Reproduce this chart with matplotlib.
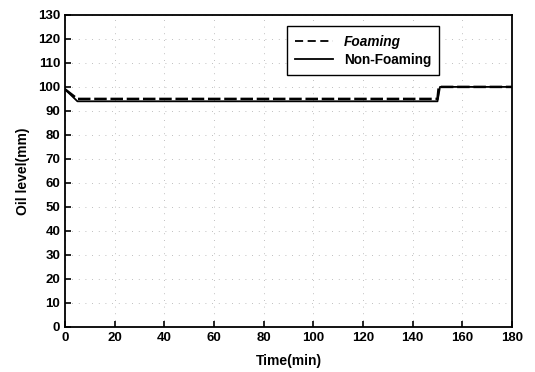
import matplotlib
matplotlib.use("Agg")
from matplotlib import pyplot as plt

plt.rcParams['font.family'] = ['Liberation Sans', 'DejaVu Sans']
plt.rcParams['font.weight'] = 'bold'

# oil level readings (mm) vs time (min)
t_foam = [0, 5, 10, 30, 60, 90, 120, 150, 150.5, 180]
lvl_foam = [99, 95, 95, 95, 95, 95, 95, 95, 100, 100]
t_nonfoam = [0, 5, 10, 30, 60, 90, 120, 150, 151, 180]
lvl_nonfoam = [99, 94, 94, 94, 94, 94, 94, 94, 100, 100]

xticks = list(range(0, 181, 20))
yticks = list(range(0, 131, 10))

fig = plt.figure(figsize=(5.35, 3.72), dpi=100)
ax = fig.add_axes([0.1215, 0.121, 0.8355, 0.839])

ax.plot(t_foam, lvl_foam, color='black', linestyle=(0, (5, 1.5)), linewidth=1.8, label='Foaming')
ax.plot(t_nonfoam, lvl_nonfoam, color='black', linestyle='-', linewidth=1.3, label='Non-Foaming')

ax.set_xlim(0, 180)
ax.set_ylim(0, 130)
ax.set_xticks(xticks)
ax.set_yticks(yticks)
ax.tick_params(direction='in', length=4, width=1.2, labelsize=9.5, top=False, right=False)
for lab in ax.get_xticklabels() + ax.get_yticklabels():
    lab.set_fontweight('bold')
ax.grid(True, linestyle=(0, (1, 7)), color='#aaaaaa', linewidth=0.6)
for s in ax.spines.values():
    s.set_linewidth(1.3)

ax.set_xlabel('Time(min)', fontsize=10, fontweight='bold', labelpad=7)
ax.set_ylabel('Oil level(mm)', fontsize=10, fontweight='bold', labelpad=6)

leg = ax.legend(loc='upper left', bbox_to_anchor=(0.481, 0.985), fancybox=False,
                edgecolor='black', framealpha=1, fontsize=9.8, handlelength=2.8,
                borderpad=0.6, labelspacing=0.3)
leg.get_frame().set_linewidth(1.0)
leg.get_texts()[0].set_fontstyle('italic')
leg.get_lines()[0].set_linestyle((0, (4.5, 2.5)))
leg.get_lines()[0].set_linewidth(1.3)

fig.savefig('out.png', dpi=100)
